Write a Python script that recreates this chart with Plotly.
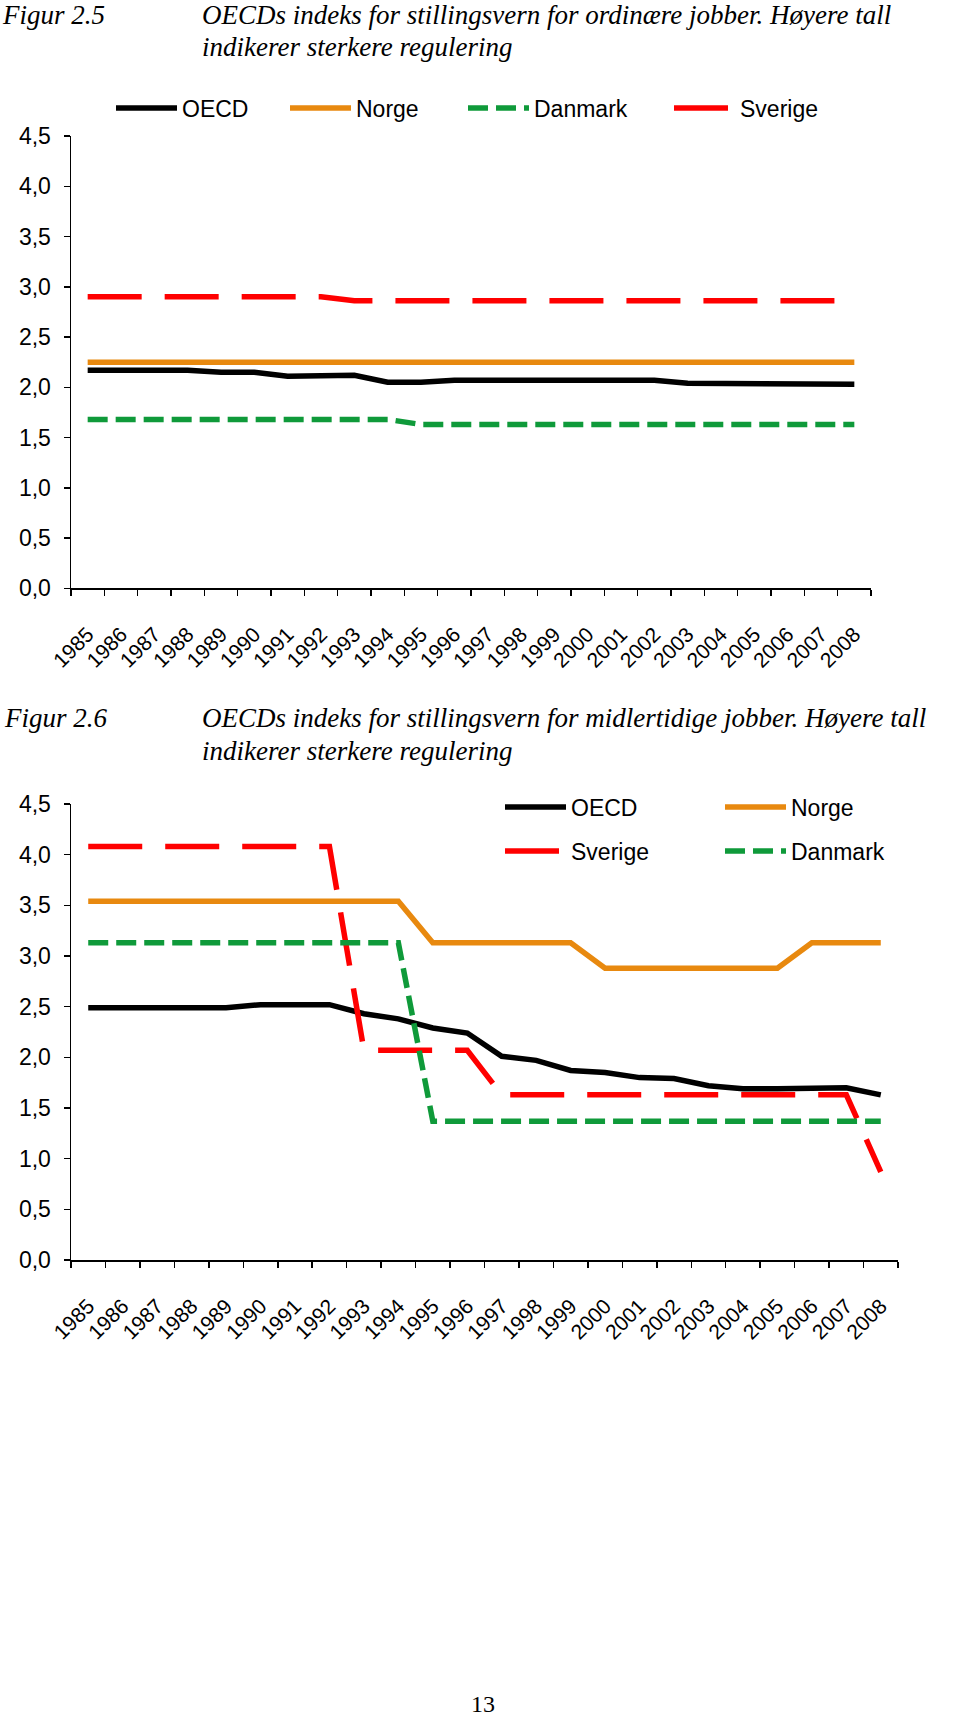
import plotly.graph_objects as go

# ---------------- data ----------------
years = ["1985", "1986", "1987", "1988", "1989", "1990", "1991", "1992",
         "1993", "1994", "1995", "1996", "1997", "1998", "1999", "2000",
         "2001", "2002", "2003", "2004", "2005", "2006", "2007", "2008"]

# Figur 2.5 – ordinære jobber
ord_oecd = [2.17, 2.17, 2.17, 2.17, 2.15, 2.15, 2.11, 2.11, 2.12, 2.05, 2.05, 2.07,
            2.07, 2.07, 2.07, 2.07, 2.07, 2.07, 2.04, 2.04, 2.04, 2.04, 2.03, 2.03]
ord_norge = [2.25, 2.25, 2.25, 2.25, 2.25, 2.25, 2.25, 2.25, 2.25, 2.25, 2.25, 2.25,
             2.25, 2.25, 2.25, 2.25, 2.25, 2.25, 2.25, 2.25, 2.25, 2.25, 2.25, 2.25]
ord_danmark = [1.68, 1.68, 1.68, 1.68, 1.68, 1.68, 1.68, 1.68, 1.68, 1.68, 1.63, 1.63,
               1.63, 1.63, 1.63, 1.63, 1.63, 1.63, 1.63, 1.63, 1.63, 1.63, 1.63, 1.63]
ord_sverige = [2.90, 2.90, 2.90, 2.90, 2.90, 2.90, 2.90, 2.90, 2.86, 2.86, 2.86, 2.86,
               2.86, 2.86, 2.86, 2.86, 2.86, 2.86, 2.86, 2.86, 2.86, 2.86, 2.86, 2.86]

# Figur 2.6 – midlertidige jobber
tmp_oecd = [2.49, 2.49, 2.49, 2.49, 2.49, 2.52, 2.52, 2.52, 2.43, 2.38, 2.29, 2.24,
            2.01, 1.97, 1.87, 1.85, 1.80, 1.79, 1.72, 1.69, 1.69, 1.70, 1.70, 1.63]
tmp_norge = [3.54, 3.54, 3.54, 3.54, 3.54, 3.54, 3.54, 3.54, 3.54, 3.54, 3.13, 3.13,
             3.13, 3.13, 3.13, 2.88, 2.88, 2.88, 2.88, 2.88, 2.88, 3.13, 3.13, 3.13]
tmp_sverige = [4.08, 4.08, 4.08, 4.08, 4.08, 4.08, 4.08, 4.08, 2.07, 2.07, 2.07, 2.07,
               1.63, 1.63, 1.63, 1.63, 1.63, 1.63, 1.63, 1.63, 1.63, 1.63, 1.63, 0.87]
tmp_danmark = [3.13, 3.13, 3.13, 3.13, 3.13, 3.13, 3.13, 3.13, 3.13, 3.13, 1.37, 1.37,
               1.37, 1.37, 1.37, 1.37, 1.37, 1.37, 1.37, 1.37, 1.37, 1.37, 1.37, 1.37]

y_ticks = [0.0, 0.5, 1.0, 1.5, 2.0, 2.5, 3.0, 3.5, 4.0, 4.5]

# ---------------- styles ----------------
W, H = 960, 1718
C_OECD = "#000000"
C_NORGE = "#E8890F"
C_DANMARK = "#0F9A3A"
C_SVERIGE = "#FF0000"
LW = 5.5
DASH_LONG = "54px,23px"
DASH_SHORT = "20px,8px"
SANS = "Liberation Sans, Arial, sans-serif"
SERIF = "Liberation Serif, Times New Roman, serif"


def px_x(p):
    return p / W


def px_y(p):
    return 1 - p / H


fig = go.Figure()

series1 = [
    ("OECD", ord_oecd, C_OECD, "solid", "legend"),
    ("Norge", ord_norge, C_NORGE, "solid", "legend2"),
    ("Danmark", ord_danmark, C_DANMARK, DASH_SHORT, "legend3"),
    ("Sverige", ord_sverige, C_SVERIGE, DASH_LONG, "legend4"),
]
for name, vals, col, dash, lg in series1:
    fig.add_trace(go.Scatter(x=years, y=vals, name=name, mode="lines",
                             line=dict(color=col, width=LW, dash=dash),
                             xaxis="x", yaxis="y", legend=lg))

series2 = [
    ("OECD", tmp_oecd, C_OECD, "solid", "legend5"),
    ("Norge", tmp_norge, C_NORGE, "solid", "legend6"),
    ("Sverige", tmp_sverige, C_SVERIGE, DASH_LONG, "legend7"),
    ("Danmark", tmp_danmark, C_DANMARK, DASH_SHORT, "legend8"),
]
for name, vals, col, dash, lg in series2:
    fig.add_trace(go.Scatter(x=years, y=vals, name=name, mode="lines",
                             line=dict(color=col, width=LW, dash=dash),
                             xaxis="x2", yaxis="y2", legend=lg))

xcommon = dict(type="category", categoryorder="array", categoryarray=years,
               range=[-0.5, len(years) - 0.5], tickson="boundaries",
               ticks="outside", ticklen=6, tickwidth=1.5, tickcolor="black",
               showline=True, linecolor="black", linewidth=1.5,
               showgrid=False, zeroline=False, tickangle=-45, automargin=False,
               tickfont=dict(family=SANS, size=21, color="black"),
               ticklabelstandoff=24, fixedrange=True)
ycommon = dict(range=[0, 4.5], tickvals=y_ticks, tickformat=".1f",
               ticks="outside", ticklen=6, tickwidth=1.5, tickcolor="black",
               showline=True, linecolor="black", linewidth=1.5,
               showgrid=False, zeroline=False, automargin=False,
               tickfont=dict(family=SANS, size=23, color="black"),
               ticklabelstandoff=8, fixedrange=True)

fig.update_layout(
    width=W, height=H,
    margin=dict(l=0, r=0, t=0, b=0, autoexpand=False),
    paper_bgcolor="white", plot_bgcolor="white",
    separators=",.",
    showlegend=True,
    xaxis=dict(domain=[px_x(71), px_x(871)], anchor="y", **xcommon),
    yaxis=dict(domain=[px_y(588.3), px_y(136)], anchor="x", **ycommon),
    xaxis2=dict(domain=[px_x(71), px_x(898)], anchor="y2", **xcommon),
    yaxis2=dict(domain=[px_y(1260), px_y(804)], anchor="x2", **ycommon),
)

leg_base = dict(orientation="h", xanchor="left", yanchor="middle", itemwidth=61,
                xref="container", yref="container",
                font=dict(family=SANS, size=23, color="black"),
                bgcolor="rgba(0,0,0,0)", borderwidth=0)
legend_pos = {
    "legend": (111, 108), "legend2": (285, 108), "legend3": (463, 108), "legend4": (669, 108),
    "legend5": (500, 807), "legend6": (720, 807), "legend7": (500, 851), "legend8": (720, 851),
}
for key, (lx, ly) in legend_pos.items():
    fig.update_layout({key: dict(x=px_x(lx), y=px_y(ly), **leg_base)})

# ---------------- text ----------------
def add_text(txt, x, y, size, family, xanchor="left"):
    fig.add_annotation(text=txt, x=px_x(x), y=px_y(y), xref="paper", yref="paper",
                       xanchor=xanchor, yanchor="middle", showarrow=False,
                       font=dict(family=family, size=size, color="black"))

add_text("<i>Figur 2.5</i>", 0, 15, 27, SERIF)
add_text("<i>OECDs indeks for stillingsvern for ordinære jobber. Høyere tall</i>", 200, 15, 27, SERIF)
add_text("<i>indikerer sterkere regulering</i>", 200, 47, 27, SERIF)
add_text("<i>Figur 2.6</i>", 2, 718, 27, SERIF)
add_text("<i>OECDs indeks for stillingsvern for midlertidige jobber. Høyere tall</i>", 200, 718, 27, SERIF)
add_text("<i>indikerer sterkere regulering</i>", 200, 751, 27, SERIF)
add_text("13", 483, 1704, 24, SERIF, xanchor="center")

fig.write_html("out.html",
               config={"displayModeBar": False, "staticPlot": True},
               post_script="document.body.style.margin='0px';"
                           "document.body.style.overflow='hidden';")
